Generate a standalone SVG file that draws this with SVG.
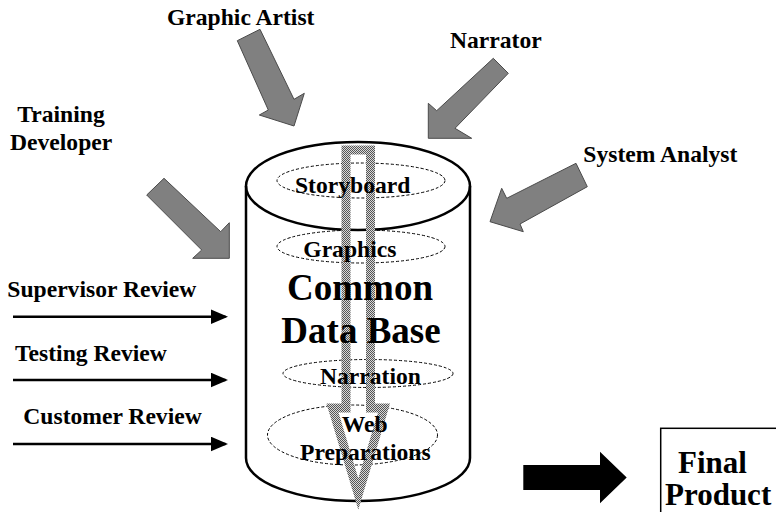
<svg xmlns="http://www.w3.org/2000/svg" width="776" height="512" viewBox="0 0 776 512">
<defs>
<style>
text{font-family:"Liberation Serif","Times New Roman",serif;font-weight:bold;fill:#000}
.lbl{font-size:23.6px}
.big{font-size:37px}
.fin{font-size:31px}
.cyl{fill:none;stroke:#000;stroke-width:2.5}
.inner{fill:none;stroke:#000;stroke-width:1;stroke-dasharray:3 2}
.gray{fill:#808080;stroke:#4a4a4a;stroke-width:1;stroke-linejoin:miter}
.rev{stroke:#000;stroke-width:2.5;fill:none;marker-end:url(#ah)}
</style>
<pattern id="chk" width="2" height="2" patternUnits="userSpaceOnUse">
<rect width="2" height="2" fill="#d8d8d8"/>
<rect width="1" height="1" fill="#555"/>
<rect x="1" y="1" width="1" height="1" fill="#555"/>
</pattern>
<marker id="ah" markerWidth="7" markerHeight="6" refX="6" refY="3" orient="auto" markerUnits="strokeWidth">
<path d="M0,0 L7,3 L0,6 Z" fill="#000"/>
</marker>
</defs>
<rect width="776" height="512" fill="#fff"/>

<g id="database">
<path class="cyl" d="M246,186 V458 A112,43 0 0 0 470,458 V186"/>
<ellipse class="cyl" cx="358" cy="186" rx="112" ry="44"/>
</g>
<g id="storyboard"><ellipse class="inner" cx="361" cy="180.5" rx="84" ry="17.5"/></g>
<g id="graphics"><ellipse class="inner" cx="361" cy="246.5" rx="84" ry="16.5"/></g>
<g id="narration"><ellipse class="inner" cx="368" cy="373.5" rx="85" ry="14"/></g>
<g id="web-preparations"><ellipse class="inner" cx="352.5" cy="435" rx="85" ry="30"/></g>

<g id="connectors">
<path id="flow-arrow" d="M346,150 H370.5 V408 H384 L358.3,494 L332.5,408 H346 Z" fill="none" stroke="url(#chk)" stroke-width="9" stroke-linejoin="miter" stroke-miterlimit="10"/>
<polygon class="gray" points="237.3,40.7 260,29.3 294,99.3 304.3,93.3 294,126 259.3,115 268.3,110"/>
<polygon class="gray" points="493.3,58.3 508.3,73.3 455,128.3 471.7,138.3 428.3,138.3 428.3,103.3 436.7,110.7"/>
<polygon class="gray" points="576,163.3 587.3,186.7 520,224 523.3,231.7 490,221.7 501.7,188.3 506.7,198.3"/>
<polygon class="gray" points="164,178.3 220.7,231.7 229.3,222.7 229.3,258.3 192.7,258.3 201.7,250 146.7,195"/>
<line class="rev" x1="13" y1="316.7" x2="225.5" y2="316.7"/>
<line class="rev" x1="13" y1="380" x2="225.5" y2="380"/>
<line class="rev" x1="13" y1="444" x2="225.5" y2="444"/>
<polygon points="523.3,465 600,465 600,451.7 626.7,477.5 600,503.3 600,490 523.3,490" fill="#000"/>
</g>

<g id="db-labels">
<text class="lbl" x="295" y="193.3">Storyboard</text>
<text class="lbl" x="303.3" y="256.7">Graphics</text>
<text class="big" x="360" y="300" text-anchor="middle">Common</text>
<text class="big" x="361" y="343" text-anchor="middle">Data Base</text>
<text class="lbl" x="320" y="383.5">Narration</text>
<text class="lbl" x="341.7" y="431.7">Web</text>
<text class="lbl" x="300" y="460">Preparations</text>
</g>

<g id="graphic-artist"><text class="lbl" x="167" y="25">Graphic Artist</text></g>
<g id="narrator"><text class="lbl" x="450" y="48.3">Narrator</text></g>
<g id="system-analyst"><text class="lbl" x="583.3" y="161.7">System Analyst</text></g>
<g id="training-developer">
<text class="lbl" x="17.3" y="121.7">Training</text>
<text class="lbl" x="10" y="150">Developer</text>
</g>
<g id="supervisor-review"><text class="lbl" x="7.3" y="297.3">Supervisor Review</text></g>
<g id="testing-review"><text class="lbl" x="15" y="360.5">Testing Review</text></g>
<g id="customer-review"><text class="lbl" x="23.3" y="424.3">Customer Review</text></g>

<g id="final-product">
<rect x="660.7" y="428.3" width="130" height="100" fill="#fff" stroke="#000" stroke-width="1.5"/>
<text class="fin" x="678" y="472.7">Final</text>
<text class="fin" x="665" y="505">Product</text>
</g>
</svg>
